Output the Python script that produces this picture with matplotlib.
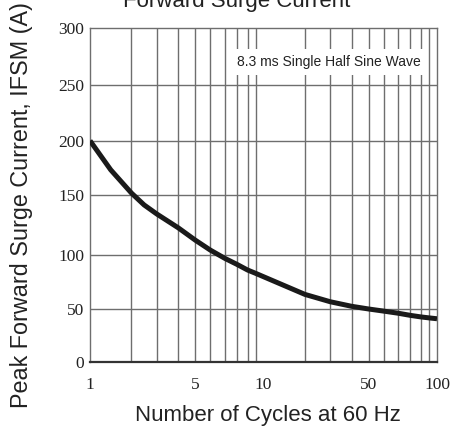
import numpy as np
import matplotlib
matplotlib.use('Agg')
import matplotlib.pyplot as plt

# curve
cycles = [1, 1.5, 2, 2.5, 3, 4, 5, 6, 7, 8, 9, 9.5, 10,
          20, 30, 40, 50, 60, 70, 80, 90, 95, 100]
current = [200, 173, 151.5, 141.5, 134, 122.6, 112.4, 104.1, 96.9, 91.4, 86.1, 83, 79.9,
           63.5, 56.7, 52.5, 50, 48, 46, 44, 42.5, 41.6, 40.8]

x_ticks = [1, 5, 10, 50, 100]
x_grid = [2, 3, 4, 5, 6, 7, 8, 9, 9.5, 20, 30, 40, 50, 60, 70, 80, 90, 95]
y_ticks = [0, 50, 100, 150, 200, 250, 300]

# the printed grid is not a true log grid: position of each line inside a decade
kv = [1, 2, 3, 4, 5, 6, 7, 8, 9, 9.5, 10]
kf = [0, 0.239, 0.385, 0.508, 0.606, 0.693, 0.777, 0.846, 0.908, 0.955, 1.0]
# and the horizontal lines are not evenly spaced either
yv = [-300, 0, 50, 100, 150, 200, 250, 300, 600]
yf = [-1, 0, 0.1587, 0.3204, 0.5009, 0.6626, 0.8293, 1.0, 2.0]

def xfwd(x):
    x = np.asarray(x, float)
    out = np.full(x.shape, np.nan)
    ok = x > 0
    d = np.floor(np.log10(x[ok]) + 1e-12)
    out[ok] = d + np.interp(x[ok] / 10**d, kv, kf)
    return out

def xinv(y):
    y = np.asarray(y, float)
    d = np.floor(y)
    return 10**d * np.interp(y - d, kf, kv)

def yfwd(y):
    return np.interp(y, yv, yf)

def yinv(y):
    return np.interp(y, yf, yv)

fig = plt.figure(figsize=(4.53, 4.30), dpi=100)
ax = fig.add_axes([90/453, 68/430, 347/453, 334/430])
ax.set_xscale('function', functions=(xfwd, xinv))
ax.set_yscale('function', functions=(yfwd, yinv))

gc = '#6e6e6e'
for v in x_grid:
    ax.axvline(v, color=gc, lw=1.0, zorder=1)
for v in y_ticks[1:-1]:
    ax.axhline(v, color=gc, lw=1.0, zorder=1)

ax.plot(cycles, current, color='#1a1a1a', lw=3.6, solid_capstyle='butt',
        solid_joinstyle='round', zorder=3)

ax.set_xlim(1, 100)
ax.set_ylim(0, 300)
ax.set_xticks(x_ticks)
ax.set_xticklabels([str(v) for v in x_ticks])
ax.set_xticks([], minor=True)
ax.set_yticks(y_ticks)
ax.set_yticks([], minor=True)
ax.tick_params(length=0, labelsize=12.5, labelfontfamily='Liberation Serif', colors='#222222')
ax.tick_params(axis='x', pad=11)
ax.tick_params(axis='y', pad=4)

for s in ['left', 'right', 'top']:
    ax.spines[s].set_color(gc)
    ax.spines[s].set_linewidth(1.0)
ax.spines['bottom'].set_color('#333333')
ax.spines['bottom'].set_linewidth(1.6)

ax.text(0.688, 0.898, '8.3 ms Single Half Sine Wave', transform=ax.transAxes,
        ha='center', va='center', fontsize=10, family='Liberation Sans', color='#222222',
        bbox=dict(boxstyle='square,pad=0.45', fc='white', ec='none'), zorder=4)

ax.set_xlabel('Number of Cycles at 60 Hz', fontsize=16, family='Liberation Sans', color='#222222')
ax.xaxis.set_label_coords(0.512, -0.128)
ax.set_ylabel('Peak Forward Surge Current, IFSM (A)', fontsize=16.8, family='Liberation Sans', color='#222222')
ax.yaxis.set_label_coords(-0.163, 0.47)

# title is cut by the top edge in the original scan
fig.text(237/453, 1 - 7/430, 'Forward Surge Current', ha='center', va='baseline',
         fontsize=16, family='Liberation Sans', color='#222222')

plt.savefig('out.png', dpi=100)
